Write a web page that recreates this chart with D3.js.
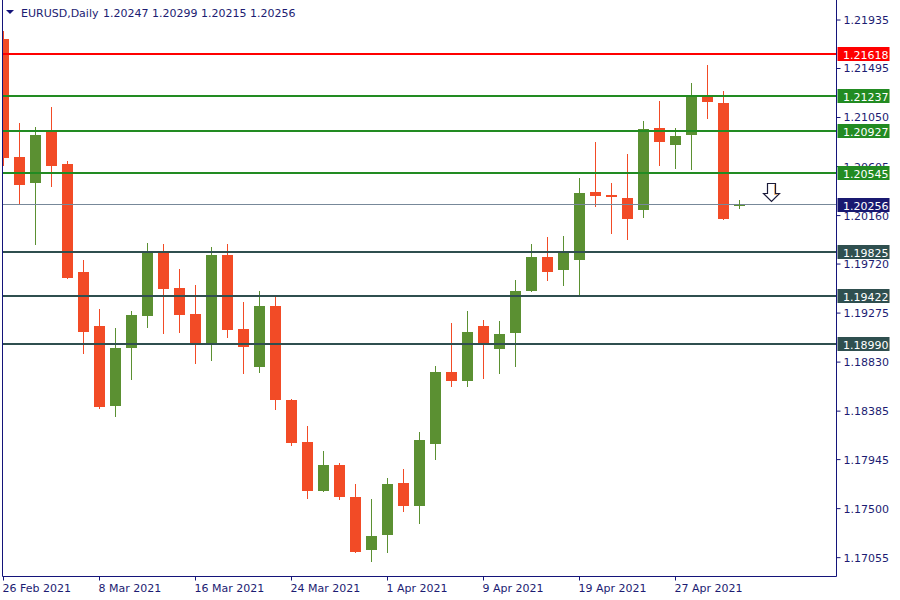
<!DOCTYPE html>
<html>
<head>
<meta charset="utf-8">
<script src="https://cdn.jsdelivr.net/npm/d3@7/dist/d3.min.js"></script>
<style>
  html, body { margin: 0; padding: 0; background: #ffffff; }
  svg { display: block; font-family: "DejaVu Sans", Verdana, sans-serif; }
</style>
</head>
<body>
<svg id="chart" width="900" height="600"></svg>
<script>
// ---------------- DATA ----------------
const symbolLabel = "EURUSD,Daily";
const headerValues = ["1.20247", "1.20299", "1.20215", "1.20256"];

const dates = [
  "2021-02-26",
  "2021-03-01","2021-03-02","2021-03-03","2021-03-04","2021-03-05",
  "2021-03-08","2021-03-09","2021-03-10","2021-03-11","2021-03-12",
  "2021-03-15","2021-03-16","2021-03-17","2021-03-18","2021-03-19",
  "2021-03-22","2021-03-23","2021-03-24","2021-03-25","2021-03-26",
  "2021-03-29","2021-03-30","2021-03-31","2021-04-01","2021-04-02",
  "2021-04-05","2021-04-06","2021-04-07","2021-04-08","2021-04-09",
  "2021-04-12","2021-04-13","2021-04-14","2021-04-15","2021-04-16",
  "2021-04-19","2021-04-20","2021-04-21","2021-04-22","2021-04-23",
  "2021-04-26","2021-04-27","2021-04-28","2021-04-29","2021-04-30",
  "2021-05-03"
];

const opens = [
  1.21754, 1.20683, 1.20449, 1.20910, 1.20628, 1.19639, 1.19149, 1.18425, 1.18952, 1.19242,
  1.19829, 1.19494, 1.19258, 1.18997, 1.19802, 1.19122, 1.18779, 1.19339, 1.18486, 1.18096,
  1.17654, 1.17887, 1.17597, 1.17118, 1.17255, 1.17724, 1.17518, 1.18081, 1.18740, 1.18652,
  1.19149, 1.18943, 1.19088, 1.19469, 1.19784, 1.19666, 1.19748, 1.20365, 1.20338, 1.20311,
  1.20202, 1.20946, 1.20792, 1.20891, 1.21239, 1.21173, 1.20247
];
const highs = [
  1.21835, 1.21000, 1.20955, 1.21145, 1.20655, 1.19748, 1.19303, 1.19131, 1.19285, 1.19911,
  1.19902, 1.19675, 1.19521, 1.19866, 1.19902, 1.19367, 1.19475, 1.19412, 1.18495, 1.18250,
  1.18023, 1.17914, 1.17715, 1.17579, 1.17778, 1.17851, 1.18187, 1.18786, 1.19176, 1.19285,
  1.19212, 1.19203, 1.19575, 1.19893, 1.19957, 1.19966, 1.20501, 1.20819, 1.20447, 1.20710,
  1.21018, 1.21191, 1.20946, 1.21363, 1.21518, 1.21282, 1.20299
];
const lows = [
  1.20604, 1.20253, 1.19887, 1.20413, 1.19578, 1.18901, 1.18398, 1.18326, 1.18659, 1.19133,
  1.19079, 1.19094, 1.18807, 1.18840, 1.19043, 1.18716, 1.18725, 1.18389, 1.18062, 1.17579,
  1.17650, 1.17570, 1.17089, 1.17010, 1.17091, 1.17463, 1.17352, 1.17933, 1.18604, 1.18604,
  1.18668, 1.18716, 1.18779, 1.19465, 1.19566, 1.19512, 1.19430, 1.20229, 1.19984, 1.19938,
  1.20129, 1.20610, 1.20576, 1.20565, 1.21028, 1.20115, 1.20215
];
const closes = [
  1.20676, 1.20431, 1.20891, 1.20604, 1.19587, 1.19097, 1.18416, 1.18958, 1.19249, 1.19829,
  1.19487, 1.19251, 1.18992, 1.19802, 1.19115, 1.18961, 1.19339, 1.18480, 1.18090, 1.17654,
  1.17896, 1.17600, 1.17100, 1.17243, 1.17715, 1.17518, 1.18114, 1.18740, 1.18652, 1.19103,
  1.18988, 1.19085, 1.19475, 1.19775, 1.19642, 1.19823, 1.20356, 1.20331, 1.20322, 1.20120,
  1.20937, 1.20819, 1.20882, 1.21239, 1.21182, 1.20120, 1.20256
];

const xTickDates  = ["2021-02-26","2021-03-08","2021-03-16","2021-03-24","2021-04-01","2021-04-09","2021-04-19","2021-04-27"];
const xTickLabels = ["26 Feb 2021","8 Mar 2021","16 Mar 2021","24 Mar 2021","1 Apr 2021","9 Apr 2021","19 Apr 2021","27 Apr 2021"];

const yTicks = [1.21935, 1.21495, 1.21050, 1.20605, 1.20160, 1.19720, 1.19275, 1.18830, 1.18385, 1.17945, 1.17500, 1.17055];

const levelPrices = [1.21618, 1.21237, 1.20927, 1.20545, 1.19825, 1.19422, 1.18990];
const levelKinds  = ["red", "green", "green", "green", "slate", "slate", "slate"];
const currentPrice = 1.20256;

const arrowBarsAfterLast = 2;      // arrow placed two bars right of the last candle
const arrowTopPrice = 1.20450;

// ---------------- STYLE ----------------
const W = 900, H = 600;
const plot = { left: 2.5, right: 836.5, top: 3, bottom: 576 };
const priceDomain = [1.16884, 1.22085];
const barStep = 16, bodyW = 11;
const upColor = "#5b9032", downColor = "#f24b26";
const axisColor = "#14147a";
const textColor = "#1c1c72";
const levelStyle = {
  red:   { line: "#ff0000", box: "#ff0000", width: 2 },
  green: { line: "#228b22", box: "#228b22", width: 2 },
  slate: { line: "#2f4f4f", box: "#2f4f4f", width: 2 }
};
const currentStyle = { line: "#778899", box: "#191970", width: 1 };

// ---------------- SCALES ----------------
const svg = d3.select("#chart");
const firstCenter = 3.5;
const x = d3.scaleBand()
  .domain(dates)
  .range([firstCenter - barStep / 2, firstCenter - barStep / 2 + barStep * dates.length])
  .paddingInner(0).paddingOuter(0);
const cx = d => x(d) + x.bandwidth() / 2;
const y = d3.scaleLinear().domain(priceDomain).range([plot.bottom, plot.top]);

const candles = dates.map((d, i) => ({ date: d, o: opens[i], h: highs[i], l: lows[i], c: closes[i] }));

// clip for plot region
svg.append("defs").append("clipPath").attr("id", "plotClip")
  .append("rect").attr("x", plot.left + 0.5).attr("y", 0)
  .attr("width", plot.right - plot.left - 1).attr("height", plot.bottom);

const gPlot = svg.append("g").attr("clip-path", "url(#plotClip)");

// candles (all except the live one, which is drawn above the bid line)
const gC = gPlot.append("g");
const gLive = gPlot.append("g");
function drawCandles(g, data) {
  g.selectAll("line.wick").data(data).enter().append("line")
    .attr("class", "wick")
    .attr("x1", d => cx(d.date)).attr("x2", d => cx(d.date))
    .attr("y1", d => Math.round(y(d.h))).attr("y2", d => Math.round(y(d.l)))
    .attr("stroke", d => d.c >= d.o ? upColor : downColor)
    .attr("stroke-width", 1);
  g.selectAll("rect.body").data(data).enter().append("rect")
    .attr("class", "body")
    .attr("x", d => cx(d.date) - bodyW / 2)
    .attr("width", bodyW)
    .attr("y", d => Math.round(y(Math.max(d.o, d.c))))
    .attr("height", d => Math.max(1, Math.round(y(Math.min(d.o, d.c))) - Math.round(y(Math.max(d.o, d.c)))))
    .attr("fill", d => d.c >= d.o ? upColor : downColor);
}
drawCandles(gC, candles.slice(0, candles.length - 1));

// level lines (drawn over the candles)
const levels = levelPrices.map((p, i) => ({ p, kind: levelKinds[i] }));
gC.selectAll("line.level").data(levels).enter().append("line")
  .attr("class", "level")
  .attr("x1", plot.left).attr("x2", plot.right)
  .attr("y1", d => Math.round(y(d.p))).attr("y2", d => Math.round(y(d.p)))
  .attr("stroke", d => levelStyle[d.kind].line)
  .attr("stroke-width", d => levelStyle[d.kind].width);

gC.append("line")
  .attr("x1", plot.left).attr("x2", plot.right)
  .attr("y1", Math.round(y(currentPrice)) - 0.5).attr("y2", Math.round(y(currentPrice)) - 0.5)
  .attr("stroke", currentStyle.line).attr("stroke-width", 1);

gLive.raise();
drawCandles(gLive, candles.slice(candles.length - 1));

// arrow annotation
const lastDate = dates[dates.length - 1];
const ax = cx(lastDate) + arrowBarsAfterLast * barStep;
const ay = Math.round(y(arrowTopPrice)) + 0.5;
const arrowPath = `M${ax - 4},${ay} L${ax + 4},${ay} L${ax + 4},${ay + 10} L${ax + 8},${ay + 10} L${ax},${ay + 18} L${ax - 8},${ay + 10} L${ax - 4},${ay + 10} Z`;
gPlot.append("path").attr("d", arrowPath)
  .attr("fill", "#ffffff").attr("stroke", "#1b1b3a").attr("stroke-width", 1.2);
gPlot.append("path")
  .attr("d", `M${ax + 3},${ay + 1} L${ax + 3},${ay + 11} L${ax + 6},${ay + 11}`)
  .attr("fill", "none").attr("stroke", "#e8a050").attr("stroke-width", 0.8);

// frame
const gF = svg.append("g").attr("stroke", axisColor).attr("stroke-width", 1);
gF.append("line").attr("x1", plot.left).attr("x2", plot.left).attr("y1", 0).attr("y2", plot.bottom + 0.5);
gF.append("line").attr("x1", plot.right).attr("x2", plot.right).attr("y1", 0).attr("y2", plot.bottom + 0.5);
gF.append("line").attr("x1", plot.left).attr("x2", plot.right).attr("y1", plot.bottom + 0.5).attr("y2", plot.bottom + 0.5);

// y axis (right)
const yAxis = d3.axisRight(y).tickValues(yTicks).tickSize(4).tickPadding(3)
  .tickFormat(d => d.toFixed(5));
const gY = svg.append("g").attr("transform", `translate(${plot.right},0)`).call(yAxis);
gY.select(".domain").remove();
gY.selectAll(".tick line").attr("stroke", axisColor);
gY.selectAll(".tick text").attr("fill", textColor).attr("font-size", 11)
  .attr("font-family", "DejaVu Sans, sans-serif").attr("dy", "0.36em");

// x axis (bottom)
const xAxis = d3.axisBottom(x).tickValues(xTickDates).tickSize(4).tickPadding(4)
  .tickFormat((d, i) => xTickLabels[i]);
const gX = svg.append("g").attr("transform", `translate(0,${plot.bottom + 0.5})`).call(xAxis);
gX.select(".domain").remove();
gX.selectAll(".tick line").attr("stroke", axisColor);
gX.selectAll(".tick text").attr("fill", textColor).attr("font-size", 11)
  .attr("font-family", "DejaVu Sans, sans-serif")
  .attr("text-anchor", "start").attr("x", -1);

// level price boxes
const boxes = levels.map(d => ({ p: d.p, color: levelStyle[d.kind].box }))
  .concat([{ p: currentPrice, color: currentStyle.box }]);
const gB = svg.append("g");
gB.selectAll("rect").data(boxes).enter().append("rect")
  .attr("x", plot.right + 1).attr("width", 52)
  .attr("y", d => Math.round(y(d.p)) - 7).attr("height", 14)
  .attr("fill", d => d.color);
gB.selectAll("text").data(boxes).enter().append("text")
  .attr("x", plot.right + 6.5).attr("y", d => Math.round(y(d.p)) + 4.5)
  .attr("fill", "#ffffff").attr("font-size", 11)
  .text(d => d.p.toFixed(5));

// header
svg.append("path").attr("d", "M6,10 L14,10 L10,14 Z").attr("fill", axisColor);
svg.append("text").attr("x", 21).attr("y", 17).attr("font-size", 11).attr("fill", textColor)
  .text(symbolLabel);
svg.append("text").attr("x", 103).attr("y", 17).attr("font-size", 11).attr("fill", textColor)
  .text(headerValues.join(" "));
</script>
</body>
</html>
